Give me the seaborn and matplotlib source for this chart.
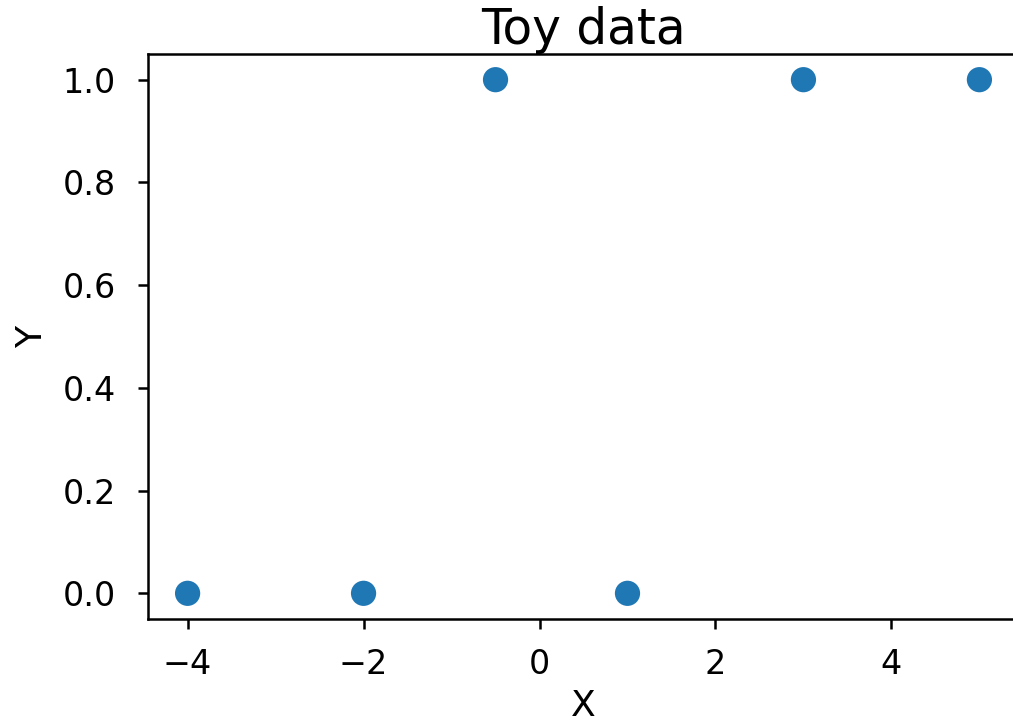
import matplotlib
matplotlib.use("Agg")
import matplotlib.pyplot as plt
import seaborn as sns
import pandas as pd

x_vals = [-4, -2, -0.5, 1, 3, 5]
y_vals = [0, 0, 1, 0, 1, 1]
title = "Toy data"
xlabel = "X"
ylabel = "Y"

df = pd.DataFrame({"x": x_vals, "y": y_vals})

sns.set_style("ticks")
plt.rcParams['font.family'] = ['DejaVu Sans']
plt.rcParams['text.color'] = 'black'
plt.rcParams['axes.labelcolor'] = 'black'

W, H = 1013, 727
fig = plt.figure(figsize=(W / 100, H / 100), dpi=100)
left, right, top, bottom = 148, 1019, 54, 619
ax = fig.add_axes([left / W, (H - bottom) / H, (right - left) / W, (bottom - top) / H])

sns.scatterplot(data=df, x="x", y="y", ax=ax, s=330, color="#1f77b4",
                edgecolor="none", linewidth=0)
ax.set_xlim(-4.45, 5.45)
ax.set_ylim(-0.05, 1.05)
ax.set_xticks([-4, -2, 0, 2, 4])
ax.set_yticks([0.0, 0.2, 0.4, 0.6, 0.8, 1.0])
ax.set_yticklabels([f"{v:.1f}" for v in [0.0, 0.2, 0.4, 0.6, 0.8, 1.0]])
ax.tick_params(labelsize=24, length=7, width=1.8, colors="black")
ax.tick_params(axis="y", pad=16)
ax.tick_params(axis="x", pad=14)
for sp in ax.spines.values():
    sp.set_linewidth(1.8)
    sp.set_color("black")
ax.set_title(title, fontsize=35, pad=6, color="black", fontweight="normal")
ax.set_xlabel(xlabel, fontsize=26, labelpad=6, color="black", fontweight="normal")
ax.set_ylabel(ylabel, fontsize=26, labelpad=10, color="black", fontweight="normal")

fig.savefig("out.png", dpi=100)
